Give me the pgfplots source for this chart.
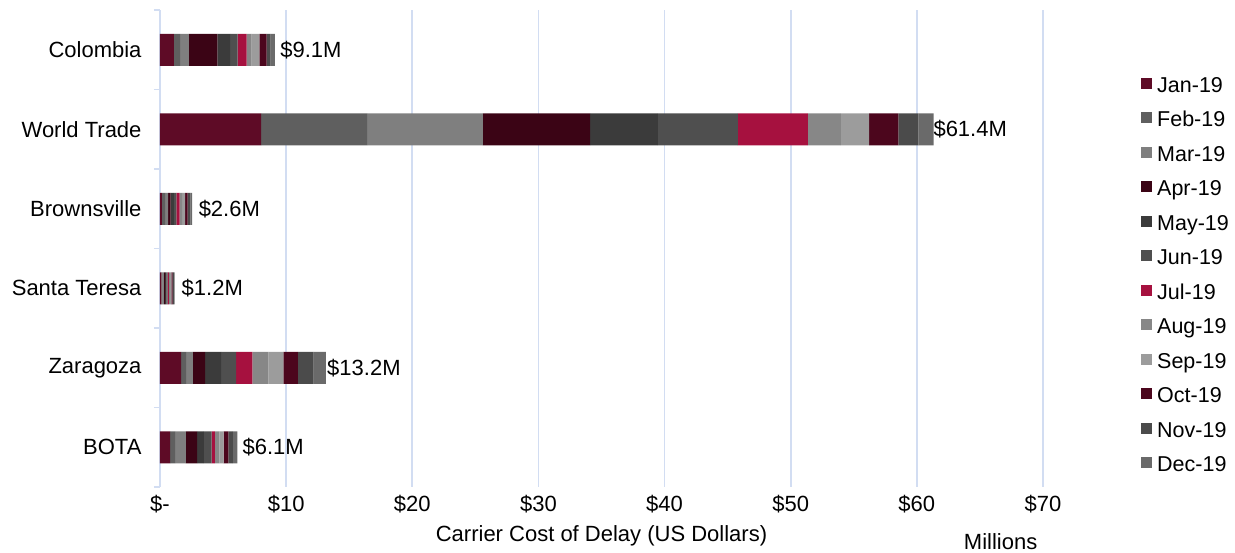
\documentclass[border=0pt]{standalone}
\usepackage{pgfplots}
\pgfplotsset{compat=1.18}
\usepackage{pgfplotstable}
\usepackage{fontspec}
\setmainfont{Liberation Sans}
\definecolor{cJan}{HTML}{5E0B26}
\definecolor{cFeb}{HTML}{5F5F5F}
\definecolor{cMar}{HTML}{7F7F7F}
\definecolor{cApr}{HTML}{3B0415}
\definecolor{cMay}{HTML}{3B3B3B}
\definecolor{cJun}{HTML}{4F4F4F}
\definecolor{cJul}{HTML}{A6113F}
\definecolor{cAug}{HTML}{878787}
\definecolor{cSep}{HTML}{9C9C9C}
\definecolor{cOct}{HTML}{4C061D}
\definecolor{cNov}{HTML}{4B4B4B}
\definecolor{cDec}{HTML}{6A6A6A}
\definecolor{gridc}{HTML}{D2DDF2}
\pgfplotstableread{
loc Jan Feb Mar Apr May Jun Jul Aug Sep Oct Nov Dec Lab
0 1.11 0.48 0.69 2.27 1.00 0.61 0.71 0.40 0.60 0.58 0.32 0.34 9.1
1 8.01 8.41 9.17 8.51 5.37 6.34 5.55 2.62 2.24 2.32 1.59 1.19 61.4
2 0.15 0.25 0.25 0.20 0.25 0.20 0.25 0.20 0.25 0.20 0.20 0.15 2.6
3 0.10 0.10 0.10 0.10 0.10 0.10 0.10 0.10 0.10 0.10 0.10 0.05 1.2
4 1.67 0.40 0.53 0.98 1.27 1.19 1.29 1.27 1.19 1.14 1.24 0.98 13.2
5 0.80 0.40 0.86 0.88 0.54 0.62 0.25 0.35 0.35 0.38 0.35 0.35 6.1
}\datatable
\begin{document}
\begin{tikzpicture}[font=\fontsize{22}{26}\selectfont]
\path[use as bounding box] (-160pt,-65pt) rectangle (1075pt,487pt);
\begin{axis}[
  at={(0,0)}, anchor=south west, scale only axis,
  width=883pt, height=477pt, clip=false,
  xbar stacked, bar width=32pt,
  xmin=0, xmax=70, ymin=-0.5, ymax=5.5, y dir=reverse,
  /pgf/number format/assume math mode=true,
  xtick={0,10,...,70},
  xticklabels={\$-,\$10,\$20,\$30,\$40,\$50,\$60,\$70},
  ytick={0,...,5},
  yticklabels={Colombia,World Trade,Brownsville,Santa Teresa,Zaragoza,BOTA},
  xmajorgrids, grid style={gridc, line width=1.6pt},
  axis x line*=bottom, axis y line*=left,
  x axis line style={draw=none},
  y axis line style={gridc, line width=1.6pt, -},
  major tick length=0pt,
  extra y ticks={-0.5,0.5,1.5,2.5,3.5,4.5,5.5},
  extra y tick labels={},
  extra y tick style={major tick length=6pt, tick align=outside, tick pos=left,
     major tick style={gridc, line width=1.6pt}},
  xticklabel style={yshift=-5pt},
  yticklabel style={xshift=-15pt},
  xlabel={Carrier Cost of Delay (US Dollars)},
  xlabel style={at={(axis description cs:0.5,0)}, anchor=center, yshift=-49pt},
  legend style={at={(rel axis cs:1,1)}, anchor=north west, xshift=95pt, yshift=-62pt,
     draw=none, fill=none, row sep=10pt, font=\fontsize{21.5}{25}\selectfont,
     nodes={text height=16pt, text depth=4.5pt},
     /tikz/every odd column/.append style={column sep=3pt}},
  legend cell align=left,
  legend image code/.code={\fill[#1] (0pt,-2.5pt) rectangle (11pt,8.5pt);},
  every axis plot/.append style={draw=none},
]
\addplot[fill=cJan] table[x=Jan, y=loc]{\datatable};
\addplot[fill=cFeb] table[x=Feb, y=loc]{\datatable};
\addplot[fill=cMar] table[x=Mar, y=loc]{\datatable};
\addplot[fill=cApr] table[x=Apr, y=loc]{\datatable};
\addplot[fill=cMay] table[x=May, y=loc]{\datatable};
\addplot[fill=cJun] table[x=Jun, y=loc]{\datatable};
\addplot[fill=cJul] table[x=Jul, y=loc]{\datatable};
\addplot[fill=cAug] table[x=Aug, y=loc]{\datatable};
\addplot[fill=cSep] table[x=Sep, y=loc]{\datatable};
\addplot[fill=cOct] table[x=Oct, y=loc]{\datatable};
\addplot[fill=cNov] table[x=Nov, y=loc]{\datatable};
\addplot[fill=cDec, point meta=explicit,
  nodes near coords={\$\pgfmathprintnumber[fixed,fixed zerofill,precision=1]{\pgfplotspointmeta}M},
  every node near coord/.append style={anchor=west, xshift=4pt, text=black}]
  table[x=Dec, y=loc, meta=Lab]{\datatable};
\legend{Jan-19,Feb-19,Mar-19,Apr-19,May-19,Jun-19,Jul-19,Aug-19,Sep-19,Oct-19,Nov-19,Dec-19}
\node at (rel axis cs:0.952,0) [yshift=-55pt] {Millions};
\end{axis}
\end{tikzpicture}
\end{document}
